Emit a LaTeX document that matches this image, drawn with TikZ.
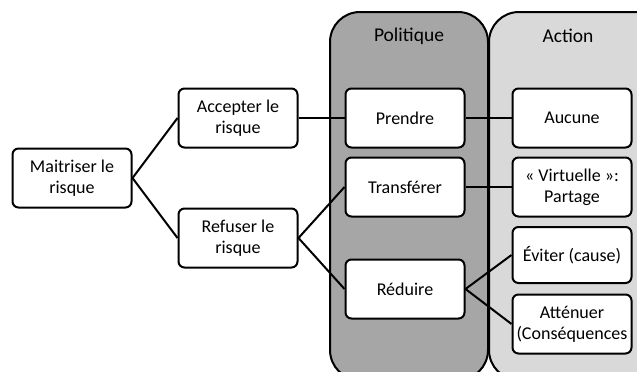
\documentclass[tikz,border=0pt]{standalone}
\usepackage{fontspec}
\setmainfont{Carlito}
\definecolor{polgray}{HTML}{A6A6A6}
\definecolor{actgray}{HTML}{D9D9D9}
\tikzset{
  box/.style={draw=black, line width=2pt, rounded corners=6pt, fill=white,
    minimum width=119pt, minimum height=59pt, align=center, inner sep=1pt,
    font=\fontsize{18}{21}\selectfont},
  link/.style={line width=2pt},
  column/.style={draw=black, line width=2pt, rounded corners=30pt},
  head/.style={font=\fontsize{19.5}{22}\selectfont}
}
\begin{document}
\begin{tikzpicture}[x=1pt,y=-1pt]
\useasboundingbox (0,0) rectangle (637,372);
\begin{scope}
\clip (0,0) rectangle (637,372);
\draw[column, fill=polgray] (330,12) rectangle (488,380);
\draw[column, fill=actgray] (489,12) rectangle (680,380);
\end{scope}
\node[head] (hpol) at (409,36) {Politique};
\node[head] (hact) at (568,36) {Action};

\node[box] (mait) at (72,178) {Maitriser le\\risque};
\node[box] (acc) at (238,118) {Accepter le\\risque};
\node[box] (ref) at (238,238) {Refuser le\\risque};
\node[box] (pre) at (405,118) {Prendre};
\node[box] (tra) at (405,187) {Transférer};
\node[box] (red) at (405,289) {Réduire};
\node[box] (auc) at (572,118) {Aucune};
\node[box] (vir) at (572,187) {« Virtuelle »:\\Partage};
\node[box, minimum height=56pt] (evi) at (572,255) {Éviter (cause)};
\node[box] (att) at (572,324) {Atténuer\\(Conséquences};

\draw[link] (mait.east) -- (acc.west);
\draw[link] (mait.east) -- (ref.west);
\draw[link] (acc.east) -- (pre.west);
\draw[link] (ref.east) -- (tra.west);
\draw[link] (ref.east) -- (red.west);
\draw[link] (pre.east) -- (auc.west);
\draw[link] (tra.east) -- (vir.west);
\draw[link] (red.east) -- (evi.west);
\draw[link] (red.east) -- (att.west);
\end{tikzpicture}
\end{document}
